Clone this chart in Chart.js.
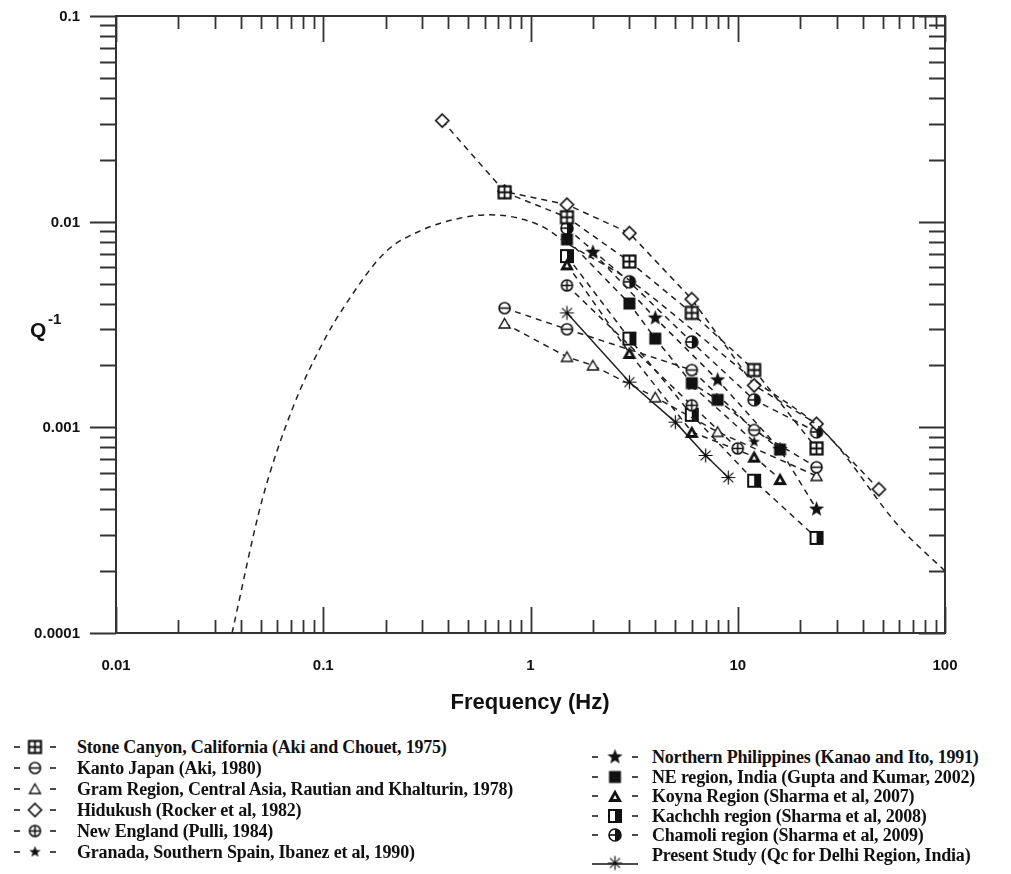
<!DOCTYPE html>
<html>
<head>
<meta charset="utf-8">
<script src="https://cdn.jsdelivr.net/npm/chart.js@4.4.0/dist/chart.umd.min.js"></script>
<style>
  body { margin: 0; background: #fff; }
  #wrap { position: relative; width: 1011px; height: 874px; overflow: hidden; }
  #chart { position: absolute; left: 0; top: 0; }
  .lg { position: absolute; height: 20px; white-space: nowrap; }
  .lg canvas { position: absolute; top: 0; }
  .lg span { position: absolute; top: 0; font: bold 18px "Liberation Serif", serif; color: #111; line-height: 20px; letter-spacing: -0.2px; }
</style>
</head>
<body>
<div id="wrap">
  <canvas id="chart" width="1011" height="730"></canvas>
</div>
<script>
// axis ticks
const xTicks = [0.01, 0.1, 1, 10, 100];
const xTickLabels = ['0.01', '0.1', '1', '10', '100'];
const yTicks = [0.0001, 0.001, 0.01, 0.1];
const yTickLabels = ['0.0001', '0.001', '0.01', '0.1'];

// Q^-1 values
const stoneF = [0.75, 1.5, 3, 6, 12, 24];
const stoneQ = [0.0139, 0.0105, 0.0064, 0.0036, 0.0019, 0.00079];
const kantoF = [0.75, 1.5, 6, 12, 24];
const kantoQ = [0.0038, 0.0030, 0.0019, 0.00097, 0.00064];
const gramF = [0.75, 1.5, 2, 4, 8, 24];
const gramQ = [0.0032, 0.0022, 0.0020, 0.0014, 0.00095, 0.00058];
const hinduF = [0.375, 0.75, 1.5, 3, 6, 12, 24, 48];
const hinduQ = [0.031, 0.014, 0.0121, 0.0088, 0.0042, 0.0016, 0.00104, 0.0005];
const englandF = [1.5, 6, 10];
const englandQ = [0.0049, 0.00128, 0.00079];
const granadaF = [6, 12];
const granadaQ = [0.0016, 0.00085];
const philF = [2, 4, 8, 16, 24];
const philQ = [0.0071, 0.0034, 0.0017, 0.00078, 0.0004];
const neF = [1.5, 3, 4, 6, 8, 16];
const neQ = [0.0082, 0.0040, 0.0027, 0.00164, 0.00136, 0.00078];
const koynaF = [1.5, 3, 6, 12, 16];
const koynaQ = [0.0062, 0.0023, 0.00095, 0.00072, 0.00056];
const kachF = [1.5, 3, 6, 12, 24];
const kachQ = [0.0068, 0.0027, 0.00115, 0.00055, 0.00029];
const chamF = [1.5, 3, 6, 12, 24];
const chamQ = [0.0093, 0.0051, 0.0026, 0.00136, 0.00095];
const delhiF = [1.5, 3, 5, 7, 9];
const delhiQ = [0.0036, 0.00166, 0.00106, 0.00073, 0.00057];
// dashed model curve
const curveF = [0.0363, 0.0506, 0.0714, 0.1, 0.127, 0.199, 0.292, 0.456, 0.637, 1.11, 1.55, 3, 6, 12, 27, 60, 100];
const curveQ = [0.0001, 0.00044, 0.00125, 0.0026, 0.0039, 0.0071, 0.009, 0.0104, 0.0108, 0.0096, 0.0077, 0.0052, 0.003, 0.0017, 0.00092, 0.00033, 0.0002];

const INK = '#111';

function mk(size, draw) {
  const c = document.createElement('canvas');
  c.width = size; c.height = size;
  const g = c.getContext('2d');
  g.strokeStyle = INK; g.fillStyle = INK; g.lineWidth = 1.6;
  draw(g, size / 2);
  return c;
}
function starPath(g, c, ro, ri) {
  g.beginPath();
  for (let i = 0; i < 10; i++) {
    const r = i % 2 ? ri : ro;
    const a = -Math.PI / 2 + i * Math.PI / 5;
    g.lineTo(c + r * Math.cos(a), c + r * Math.sin(a));
  }
  g.closePath();
}

const icons = {
  sqcross: mk(17, (g, c) => {
    g.fillStyle = '#fff'; g.fillRect(2, 2, 13, 13);
    g.lineWidth = 2.2; g.strokeRect(2.5, 2.5, 12, 12);
    g.lineWidth = 1.8;
    g.beginPath(); g.moveTo(c, 2); g.lineTo(c, 15); g.moveTo(2, c); g.lineTo(15, c); g.stroke();
  }),
  circleline: mk(15, (g, c) => {
    g.fillStyle = '#fff';
    g.beginPath(); g.arc(c, c, 5.5, 0, Math.PI * 2); g.fill(); g.stroke();
    g.beginPath(); g.moveTo(c - 5.5, c); g.lineTo(c + 5.5, c); g.stroke();
  }),
  tri: mk(15, (g, c) => {
    g.fillStyle = '#fff'; g.lineWidth = 1.4;
    g.beginPath(); g.moveTo(c, 2.5); g.lineTo(c + 5.5, 12); g.lineTo(c - 5.5, 12); g.closePath(); g.fill(); g.stroke();
  }),
  diamond: mk(17, (g, c) => {
    g.fillStyle = '#fff'; g.lineWidth = 1.7;
    g.beginPath(); g.moveTo(c, 2); g.lineTo(15, c); g.lineTo(c, 15); g.lineTo(2, c); g.closePath(); g.fill(); g.stroke();
  }),
  circleplus: mk(15, (g, c) => {
    g.fillStyle = '#fff';
    g.beginPath(); g.arc(c, c, 5.5, 0, Math.PI * 2); g.fill(); g.stroke();
    g.beginPath(); g.moveTo(c - 5.5, c); g.lineTo(c + 5.5, c); g.moveTo(c, c - 5.5); g.lineTo(c, c + 5.5); g.stroke();
  }),
  smallstar: mk(13, (g, c) => { starPath(g, c, 6, 2.6); g.fill(); }),
  star: mk(17, (g, c) => { starPath(g, c, 8, 3.4); g.fill(); }),
  square: mk(15, (g, c) => { g.fillRect(1.5, 1.5, 12, 12); }),
  trifill: mk(16, (g, c) => {
    g.beginPath(); g.moveTo(c, 1.5); g.lineTo(c + 7, 14); g.lineTo(c - 7, 14); g.closePath(); g.fill();
    g.fillStyle = '#fff';
    g.beginPath(); g.moveTo(c, 7); g.lineTo(c + 2, 11); g.lineTo(c - 2, 11); g.closePath(); g.fill();
  }),
  halfsq: mk(16, (g, c) => {
    g.fillStyle = '#fff'; g.fillRect(2, 2, 12, 12);
    g.fillStyle = INK; g.fillRect(c, 2, 6, 12);
    g.lineWidth = 2; g.strokeRect(2, 2, 12, 12);
  }),
  halfcirc: mk(16, (g, c) => {
    g.fillStyle = '#fff';
    g.beginPath(); g.arc(c, c, 6, 0, Math.PI * 2); g.fill();
    g.fillStyle = INK;
    g.beginPath(); g.arc(c, c, 6, -Math.PI / 2, Math.PI / 2); g.closePath(); g.fill();
    g.beginPath(); g.arc(c, c, 6, 0, Math.PI * 2); g.stroke();
    g.beginPath(); g.moveTo(c - 6, c); g.lineTo(c, c); g.stroke();
  }),
  asterisk: mk(17, (g, c) => {
    g.lineWidth = 1.2;
    g.beginPath();
    for (let i = 0; i < 4; i++) {
      const a = i * Math.PI / 4;
      g.moveTo(c - 7 * Math.cos(a), c - 7 * Math.sin(a));
      g.lineTo(c + 7 * Math.cos(a), c + 7 * Math.sin(a));
    }
    g.stroke();
  })
};

function pts(f, q) { return f.map((v, i) => ({ x: v, y: q[i] })); }

function series(label, f, q, icon, solid) {
  return {
    label,
    data: pts(f, q),
    showLine: true,
    borderColor: '#222',
    borderWidth: 1.5,
    borderDash: solid ? [] : [6, 5],
    pointStyle: icons[icon],
    pointRadius: 7,
    fill: false,
    icon,
    solid: !!solid
  };
}

const legendLeft = [
  series('Stone Canyon, California (Aki and Chouet, 1975)', stoneF, stoneQ, 'sqcross'),
  series('Kanto Japan (Aki, 1980)', kantoF, kantoQ, 'circleline'),
  series('Gram Region, Central Asia, Rautian and Khalturin, 1978)', gramF, gramQ, 'tri'),
  series('Hidukush (Rocker et al, 1982)', hinduF, hinduQ, 'diamond'),
  series('New England (Pulli, 1984)', englandF, englandQ, 'circleplus'),
  series('Granada, Southern Spain, Ibanez et al, 1990)', granadaF, granadaQ, 'smallstar')
];
const legendRight = [
  series('Northern Philippines (Kanao and Ito, 1991)', philF, philQ, 'star'),
  series('NE  region, India (Gupta and Kumar, 2002)', neF, neQ, 'square'),
  series('Koyna Region (Sharma et al, 2007)', koynaF, koynaQ, 'trifill'),
  series('Kachchh region (Sharma et al, 2008)', kachF, kachQ, 'halfsq'),
  series('Chamoli region (Sharma et al, 2009)', chamF, chamQ, 'halfcirc'),
  series('Present Study (Qc for Delhi Region, India)', delhiF, delhiQ, 'asterisk', true)
];

const curve = {
  label: 'model',
  data: pts(curveF, curveQ),
  showLine: true,
  borderColor: '#222',
  borderWidth: 1.5,
  borderDash: [6, 5],
  pointRadius: 0,
  cubicInterpolationMode: 'monotone',
  fill: false
};

// frame, inside/outside tick marks, y labels and titles
const axesPlugin = {
  id: 'axesPlugin',
  beforeDatasetsDraw(chart) {
    const { ctx, chartArea: a, scales: { x, y } } = chart;
    ctx.save();
    ctx.strokeStyle = '#333';
    ctx.lineWidth = 2;
    ctx.strokeRect(a.left, a.top, a.right - a.left, a.bottom - a.top);
    ctx.lineWidth = 1.8;
    ctx.beginPath();
    xTicks.forEach(d => {
      for (let m = 1; m <= 9; m++) {
        const v = d * m;
        if (v > 100 + 1e-9) break;
        const px = Math.round(x.getPixelForValue(v)) + 0.5;
        const len = m === 1 ? 26 : 13;
        ctx.moveTo(px, a.top); ctx.lineTo(px, a.top + len);
        ctx.moveTo(px, a.bottom); ctx.lineTo(px, a.bottom - len);
      }
    });
    yTicks.forEach(d => {
      for (let m = 1; m <= 9; m++) {
        const v = d * m;
        if (v > 0.1 + 1e-9) break;
        const py = Math.round(y.getPixelForValue(v)) + 0.5;
        const len = m === 1 ? 26 : 16;
        ctx.moveTo(a.left - len, py); ctx.lineTo(a.left, py);
        ctx.moveTo(a.right, py); ctx.lineTo(a.right - len, py);
      }
    });
    ctx.stroke();
    ctx.fillStyle = INK;
    ctx.textBaseline = 'middle';
    // y tick labels
    ctx.textAlign = 'right';
    ctx.font = 'bold 15px "Liberation Sans", Arial';
    yTicks.forEach((v, i) => ctx.fillText(yTickLabels[i], 80, y.getPixelForValue(v) + 1));
    // y title Q^-1
    ctx.textAlign = 'left';
    ctx.font = 'bold 21px "Liberation Sans", Arial';
    ctx.fillText('Q', 30, 331);
    ctx.font = 'bold 15px "Liberation Sans", Arial';
    ctx.fillText('-1', 48, 320);
    // x title
    ctx.textAlign = 'center';
    ctx.font = 'bold 22px "Liberation Sans", Arial';
    ctx.fillText('Frequency (Hz)', 530, 703);
    ctx.restore();
  }
};

const tickFont = { family: 'Liberation Sans', size: 15, weight: 'bold' };

new Chart(document.getElementById('chart'), {
  type: 'scatter',
  data: { datasets: [curve, ...legendLeft, ...legendRight] },
  options: {
    responsive: false,
    animation: false,
    layout: { padding: { top: 16, right: 66, left: 0, bottom: 0 } },
    plugins: { legend: { display: false }, tooltip: { enabled: false } },
    scales: {
      x: {
        type: 'logarithmic',
        min: 0.01,
        max: 100,
        grid: { display: false, drawTicks: false },
        border: { display: false },
        afterBuildTicks: s => { s.ticks = xTicks.map(v => ({ value: v })); },
        afterFit: s => { s.height = 730 - 633; },
        ticks: {
          autoSkip: false,
          maxRotation: 0,
          padding: 24,
          color: INK,
          font: tickFont,
          callback: v => xTickLabels[xTicks.indexOf(v)] ?? ''
        }
      },
      y: {
        type: 'logarithmic',
        min: 0.0001,
        max: 0.1,
        grid: { display: false, drawTicks: false },
        border: { display: false },
        afterBuildTicks: s => { s.ticks = yTicks.map(v => ({ value: v })); },
        afterFit: s => { s.width = 116; },
        ticks: { display: false }
      }
    }
  },
  plugins: [axesPlugin]
});

// legend below the chart
const wrap = document.getElementById('wrap');
function addLegend(ds, left, mid, sampleW, textX, sampleDy) {
  const row = document.createElement('div');
  row.className = 'lg';
  row.style.left = left + 'px';
  row.style.top = (mid - 10) + 'px';
  const c = document.createElement('canvas');
  c.width = sampleW; c.height = 26;
  c.style.top = sampleDy + 'px';
  const g = c.getContext('2d');
  g.strokeStyle = INK; g.lineWidth = 1.5;
  g.beginPath();
  if (ds.solid) {
    g.moveTo(2, 10); g.lineTo(sampleW - 2, 10);
  } else {
    g.moveTo(2, 9); g.lineTo(8, 9);
    g.moveTo(sampleW - 8, 9); g.lineTo(sampleW - 2, 9);
  }
  g.stroke();
  const ic = icons[ds.icon];
  g.drawImage(ic, (sampleW - ic.width) / 2, 9 - ic.height / 2);
  row.appendChild(c);
  const t = document.createElement('span');
  t.textContent = ds.label;
  t.style.left = textX + 'px';
  row.appendChild(t);
  wrap.appendChild(row);
}
legendLeft.forEach((ds, i) => addLegend(ds, 12, 747 + i * 21, 46, 65, 1));
legendRight.forEach((ds, i) => addLegend(ds, 590, 757 + i * 19.5, 50, 62, i === 5 ? 9 : 1));
</script>
</body>
</html>
